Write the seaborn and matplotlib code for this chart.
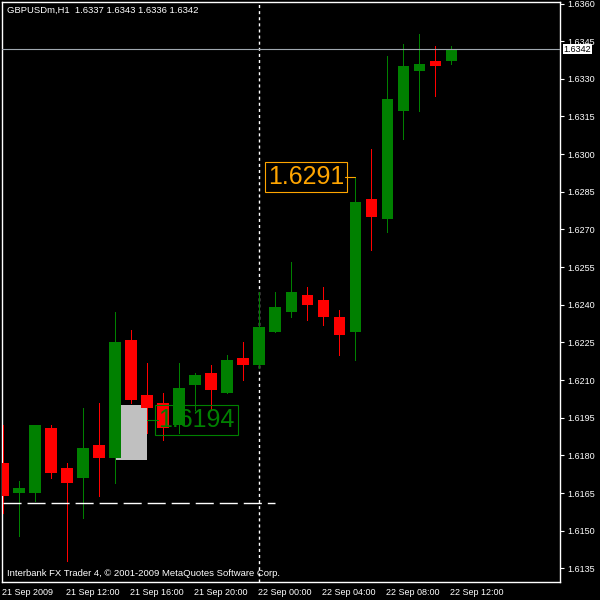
import matplotlib
matplotlib.use('Agg')
import matplotlib.pyplot as plt
import matplotlib.transforms as mtransforms
from matplotlib.patches import Rectangle
import numpy as np
import pandas as pd
import seaborn as sns

# GBPUSDm H1 candles, 21 Sep 2009 08:00 .. 22 Sep 2009 12:00
opens = [1.6177, 1.6165, 1.6165, 1.6191, 1.6175, 1.6171, 1.6184, 1.6179, 1.6226, 1.6204,
         1.6201, 1.6192, 1.6208, 1.6213, 1.6205, 1.6219, 1.6216, 1.6229, 1.6237, 1.6244,
         1.6242, 1.6235, 1.6229, 1.6282, 1.6274, 1.6317, 1.6333, 1.6337, 1.6337]
highs = [1.6192, 1.6170, 1.6192, 1.6192, 1.6177, 1.6199, 1.6201, 1.6237, 1.6230, 1.6217,
         1.6205, 1.6217, 1.6213, 1.6216, 1.6220, 1.6225, 1.6245, 1.6245, 1.6257, 1.6247,
         1.6247, 1.6238, 1.6291, 1.6302, 1.6339, 1.6344, 1.6348, 1.6343, 1.6343]
lows = [1.6157, 1.6148, 1.6162, 1.6171, 1.6138, 1.6155, 1.6164, 1.6169, 1.6201, 1.6189,
        1.6186, 1.6189, 1.6198, 1.6198, 1.6205, 1.6210, 1.6215, 1.6229, 1.6235, 1.6234,
        1.6232, 1.6220, 1.6218, 1.6262, 1.6269, 1.6306, 1.6317, 1.6323, 1.6336]
closes = [1.6164, 1.6167, 1.6192, 1.6173, 1.6169, 1.6183, 1.6179, 1.6225, 1.6202, 1.6199,
          1.6191, 1.6207, 1.6212, 1.6206, 1.6218, 1.6216, 1.6231, 1.6239, 1.6245, 1.6240,
          1.6235, 1.6228, 1.6281, 1.6275, 1.6322, 1.6335, 1.6336, 1.6335, 1.6342]

time_ticks = [0, 4, 8, 12, 16, 20, 24, 28]
time_labels = ['21 Sep 2009', '21 Sep 12:00', '21 Sep 16:00', '21 Sep 20:00',
               '22 Sep 00:00', '22 Sep 04:00', '22 Sep 08:00', '22 Sep 12:00']
price_ticks = [1.6135, 1.6150, 1.6165, 1.6180, 1.6195, 1.6210, 1.6225, 1.6240,
               1.6255, 1.6270, 1.6285, 1.6300, 1.6315, 1.6330, 1.6345, 1.6360]

last_price = 1.6342
support_level = 1.6161
high_label = 1.6291
low_label = 1.6194
box_top, box_bottom = 1.6200, 1.6178

df = pd.DataFrame({'open': opens, 'high': highs, 'low': lows, 'close': closes})
df['bar'] = np.arange(len(df))
df['up'] = df['close'] >= df['open']
df['color'] = np.where(df['up'], '#008000', '#ff0000')

sns.set_style('dark', {'axes.facecolor': 'black', 'figure.facecolor': 'black',
                       'axes.edgecolor': 'white', 'text.color': 'white',
                       'xtick.color': 'white', 'ytick.color': 'white'})
plt.rcParams['font.family'] = ['Liberation Sans', 'DejaVu Sans']

fig = plt.figure(figsize=(6, 6), dpi=100, facecolor='black')
ax = fig.add_axes([2 / 600, 18 / 600, 558 / 600, 580 / 600])
ax.set_facecolor('black')
ax.grid(False)

# selection rectangle behind the candles
ax.add_patch(Rectangle((7.06, box_bottom), 1.94, box_top - box_bottom,
                       facecolor='#c0c0c0', edgecolor='none', zorder=1))

# vertical dashed line at 22 Sep 00:00
ax.axvline(16, color='white', lw=1, linestyle=(0, (2.2, 2.2)), zorder=2)

# candles
ax.vlines(df['bar'], df['low'], df['high'], colors=df['color'], lw=0.7,
          zorder=3, antialiased=False)
body_h = (df['close'] - df['open']).abs().clip(lower=0.00004)
body_b = df[['open', 'close']].min(axis=1)
ax.bar(df['bar'], body_h, bottom=body_b, width=0.69, color=df['color'],
       edgecolor='none', zorder=4, antialiased=False)

# last price line
ax.axhline(last_price, color='#a0a8b0', lw=0.8, zorder=5)

# dashed horizontal level
ax.plot([0, 17], [support_level, support_level], color='white', lw=1,
        linestyle=(0, (13, 4.3)), zorder=6)

# orange high label
ax.plot([21.4, 22], [high_label, high_label], color='#ffa500', lw=0.8, zorder=6)
ax.text(18.95, high_label, '1.6291', color='#ffa500', fontsize=18, va='center',
        ha='center', zorder=7,
        bbox=dict(boxstyle='square,pad=0.12', facecolor='none', edgecolor='#ffa500', lw=0.8))

# green low label
ax.plot([9, 9.7], [low_label, low_label], color='#008000', lw=0.8, zorder=6)
ax.text(12.1, low_label, '1.6194', color='#008000', fontsize=18, va='center',
        ha='center', zorder=7,
        bbox=dict(boxstyle='square,pad=0.12', facecolor='none', edgecolor='#008000', lw=0.8))

ax.set_xlim(-0.0625, 34.81)
ax.set_ylim(1.61296, 1.63606)

for s in ax.spines.values():
    s.set_color('white')
    s.set_linewidth(1)

ax.yaxis.tick_right()
ax.set_yticks(price_ticks)
ax.set_yticklabels([f'{p:.4f}' for p in price_ticks])
ax.tick_params(axis='y', direction='out', length=3, width=0.8, pad=2,
               labelsize=6.5, colors='white', left=False, right=True)
ax.set_xticks(time_ticks)
ax.set_xticklabels(time_labels, ha='left')
ax.tick_params(axis='x', direction='out', length=3, width=0.8, pad=1.5,
               labelsize=6.5, colors='white')
for lab in ax.get_xticklabels():
    lab.set_transform(lab.get_transform() + mtransforms.ScaledTranslation(-1 / 100, 0, fig.dpi_scale_trans))

# current price marker on the price axis
trans = mtransforms.blended_transform_factory(ax.transAxes, ax.transData)
ax.text(1.006, last_price - 0.00002, '1.6342', transform=trans, color='black', fontsize=6.5,
        va='center', ha='left', zorder=8, clip_on=False,
        bbox=dict(boxstyle='square,pad=0.08', facecolor='white', edgecolor='none'))

fig.text(7 / 600, 1 - 10 / 600, 'GBPUSDm,H1  1.6337 1.6343 1.6336 1.6342',
         color='white', fontsize=6.8, va='center', ha='left')
ax.text(5 / 558, 8 / 580, 'Interbank FX Trader 4, \u00a9 2001-2009 MetaQuotes Software Corp.',
        transform=ax.transAxes, color='white', fontsize=6.8, va='center', ha='left')

fig.savefig('out.png', dpi=100, facecolor='black')
